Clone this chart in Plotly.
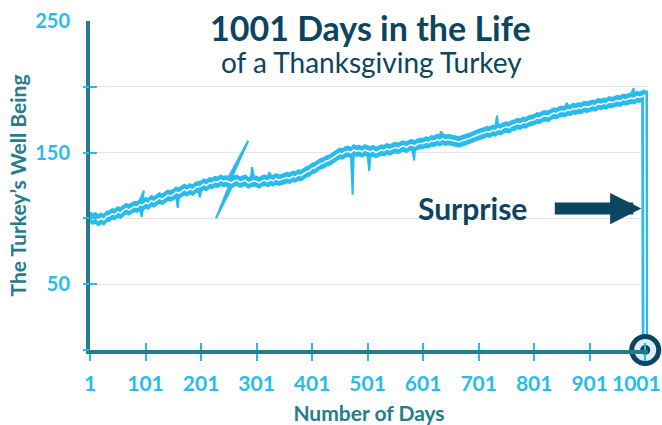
import plotly.graph_objects as go

# ---------------- data ----------------
base_days = list(range(1, 1000, 5))  # sampled every 5 days: 1, 6, ..., 996
base_values = [
    101, 99.5, 100.5, 98.5, 100, 99, 101.5, 102, 103.5, 103,
    105, 104, 106, 107.5, 106.5, 108, 109, 108.5, 110.5, 110,
    112, 111, 113.5, 112.5, 114, 115.5, 114.5, 116, 117.5, 117,
    118, 120, 119, 120.5, 122, 121, 122.5, 121.5, 123.5, 124,
    124.5, 126, 125, 127, 126.5, 128, 127.5, 129, 128, 128.5,
    128, 127, 128.5, 129, 127.5, 128, 129, 127, 128, 128.5,
    128, 127, 128.5, 129, 128, 129.5, 128.5, 130, 129, 129.5,
    130, 131, 130.5, 132, 131.5, 133, 132.5, 134, 135.5, 136,
    138, 138.5, 140, 141.5, 142, 143.5, 144, 145.5, 147, 148,
    149.5, 149, 150.5, 151, 150, 152, 151, 151.5, 150.5, 152,
    151, 150.5, 151.5, 150, 151, 152, 151.5, 153, 152, 153,
    154, 153, 154.5, 155, 154, 155.5, 156, 155, 156.5, 157,
    157, 158, 157.5, 159, 158.5, 160, 159, 160.5, 159.5, 160,
    159.5, 159, 158.5, 158, 159, 159.5, 160.5, 161, 162, 163,
    163.5, 164.5, 165, 166, 165.5, 167, 166.5, 168, 167.5, 169,
    169.5, 169, 170.5, 171, 172, 171.5, 173, 172.5, 174, 174.5,
    175, 176.5, 176, 177.5, 178, 177.5, 179, 180, 179.5, 181,
    181.5, 181, 182.5, 182, 183.5, 183, 184, 183.5, 185, 184.5,
    185, 186, 185.5, 187, 186.5, 187.5, 187, 188.5, 188, 189,
    189.5, 189, 190.5, 190, 191, 191.5, 191, 192.5, 192, 193,
]
# isolated spikes on the ribbon's edge: inserted after the given sampled day
spike_after = [91, 91, 156, 196, 251, 251, 291, 321, 471, 501, 581, 631, 731, 856, 976]
spike_days = [94, 98, 159, 199, 228, 286, 293, 324, 474, 504, 585, 633, 734, 860, 980]
spike_values = [101, 121, 108, 116, 100, 159, 139, 135, 118, 136, 144, 166, 178, 188, 199]
# the last two days
final_days = [1000, 1001]
final_values = [193.5, 0]

x_ticks = [1, 101, 201, 301, 401, 501, 601, 701, 801, 901, 1001]
y_label_vals = [50, 150, 250]
y_tick_vals = [0, 50, 100, 150, 200]

# ---------------- assemble series ----------------
days = base_days + final_days
values = base_values + final_values

BAND = 3.6  # half thickness of the drawn ribbon (style)
up_x, up_y, lo_x, lo_y = [], [], [], []
for d, v in zip(days, values):
    up_x.append(d)
    up_y.append(v + BAND)
    lo_x.append(d)
    lo_y.append(v - BAND)
    for a, sd, sv in zip(spike_after, spike_days, spike_values):
        if a == d:
            if sv > v:
                up_x.append(sd)
                up_y.append(sv)
            else:
                lo_x.append(sd)
                lo_y.append(sv)

BLUE = "#29BBEC"
NAVY = "#0C4560"
TEAL = "#257D8C"
FONT = "Lato"

fig = go.Figure()
fig.add_trace(go.Scatter(x=up_x + lo_x[::-1], y=up_y + lo_y[::-1], mode="lines",
                         fill="toself", fillcolor=BLUE,
                         line=dict(color=BLUE, width=2), hoverinfo="skip", showlegend=False))
fig.add_trace(go.Scatter(x=days, y=values, mode="lines",
                         line=dict(color=BLUE, width=7), hoverinfo="skip", showlegend=False))
fig.add_trace(go.Scatter(x=days, y=values, mode="lines",
                         line=dict(color="white", width=1.5), hoverinfo="skip", showlegend=False))
# end marker
fig.add_trace(go.Scatter(x=[days[-1]], y=[values[-1]], mode="markers", cliponaxis=False,
                         marker=dict(size=27, color="#D9F0FA", line=dict(color=NAVY, width=5)),
                         hoverinfo="skip", showlegend=False))
fig.add_trace(go.Scatter(x=[days[-1]], y=[values[-1]], mode="markers", cliponaxis=False,
                         marker=dict(size=10, color=NAVY), hoverinfo="skip", showlegend=False))
# dummy traces to activate overlay axes (for ticks crossing the axis lines)
fig.add_trace(go.Scatter(x=[None], y=[None], xaxis="x2", yaxis="y2", showlegend=False, hoverinfo="skip"))
fig.add_trace(go.Scatter(x=[None], y=[None], xaxis="x", yaxis="y3", showlegend=False, hoverinfo="skip"))

XR = [1, 1006]
YR = [0, 250]
tickfont = dict(family=FONT, size=21, color=BLUE, weight="bold")

fig.update_layout(
    width=662, height=425,
    margin=dict(l=90, r=14, t=21, b=75),
    paper_bgcolor="white", plot_bgcolor="white",
    xaxis=dict(range=XR, tickmode="array", tickvals=x_ticks,
               ticktext=[str(t) if t != x_ticks[-1] else "" for t in x_ticks],
               automargin=False,
               showgrid=False, zeroline=False, showline=True, linecolor=TEAL, linewidth=4,
               ticks="outside", ticklen=7, tickwidth=2, tickcolor=BLUE, tickfont=tickfont,
               ticklabelstandoff=5,
               title=dict(text="Number of Days", standoff=16,
                          font=dict(family=FONT, size=21, color=TEAL, weight="bold"))),
    xaxis2=dict(range=XR, overlaying="x", anchor="y", tickmode="array", tickvals=x_ticks,
                automargin=False,
                showticklabels=False, showgrid=False, zeroline=False, showline=False,
                ticks="inside", ticklen=7, tickwidth=2, tickcolor=BLUE),
    yaxis=dict(range=YR, tickmode="array", tickvals=y_label_vals,
               ticktext=[str(t) for t in y_label_vals], automargin=False,
               showgrid=False, zeroline=False, showline=True, linecolor=TEAL, linewidth=4,
               ticks="", tickfont=dict(family=FONT, size=20, color=BLUE, weight="bold"),
               ticklabelstandoff=12,
               title=dict(text="The Turkey’s Well Being", standoff=4,
                          font=dict(family=FONT, size=21, color=TEAL, weight="bold"))),
    yaxis2=dict(range=YR, overlaying="y", anchor="x", tickmode="array", tickvals=y_tick_vals,
                automargin=False,
                showticklabels=False, showgrid=True, gridcolor="#E6E6E6", gridwidth=1,
                zeroline=False, showline=False,
                ticks="outside", ticklen=6, tickwidth=2, tickcolor=BLUE),
    yaxis3=dict(range=YR, overlaying="y", anchor="x", tickmode="array", tickvals=y_tick_vals,
                automargin=False,
                showticklabels=False, showgrid=False, zeroline=False, showline=False,
                ticks="inside", ticklen=7, tickwidth=2, tickcolor=BLUE),
    annotations=[
        dict(text="1001 Days in the Life", xref="paper", yref="paper", x=0.503, y=0.979,
             xanchor="center", yanchor="middle", showarrow=False,
             font=dict(family=FONT, size=34, color=NAVY, weight="bold")),
        dict(text="of a Thanksgiving Turkey", xref="paper", yref="paper", x=0.504, y=0.875,
             xanchor="center", yanchor="middle", showarrow=False,
             font=dict(family=FONT, size=28, color=NAVY)),
        dict(text="Surprise", xref="paper", yref="paper", x=0.685, y=0.4316,
             xanchor="center", yanchor="middle", showarrow=False,
             font=dict(family=FONT, size=30, color=NAVY, weight="bold")),
        dict(text="", xref="paper", yref="paper", x=0.988, y=0.43,
             showarrow=True, ax=-88, ay=0, axref="pixel", ayref="pixel",
             arrowhead=2, arrowsize=0.52, arrowwidth=12, arrowcolor=NAVY, standoff=0),
        # last x tick label, nudged left as in the original
        dict(text=str(x_ticks[-1]), xref="x", yref="paper", x=x_ticks[-1], y=0,
             xanchor="center", yanchor="middle", xshift=-9, yshift=-32, showarrow=False,
             font=tickfont),
    ],
)

# remove the browser's default 8px body margin so the figure fills the window exactly
fig.write_html("out.html", config={"displayModeBar": False},
               post_script="document.body.style.margin='0';")
